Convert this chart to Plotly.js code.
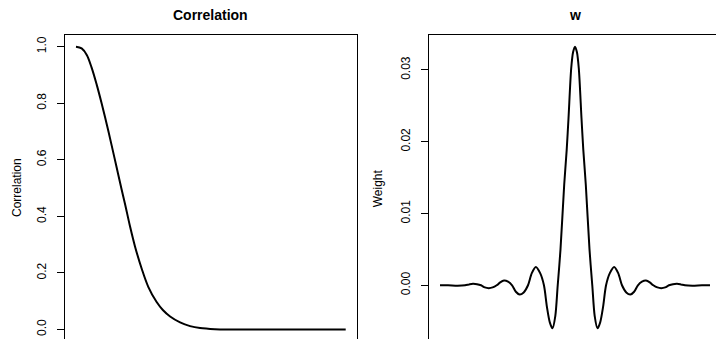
<!DOCTYPE html>
<html>
<head>
<meta charset="utf-8">
<script src="https://cdn.plot.ly/plotly-3.0.1.min.js"></script>
<style>
  html, body { margin: 0; padding: 0; overflow: hidden; background: #fff; }
  #chart { width: 730px; height: 400px; }
</style>
</head>
<body>
<div id="chart"></div>
<script>
// Correlation as a function of lag
const corrLag = [0, 2.1, 4.0, 5.8, 7.7, 9.5, 11.4, 13.2, 15.1, 16.9, 18.2, 20.0, 21.9, 24.4, 26.8, 29.9, 32.2, 34.9, 38.6, 42.3, 46.0, 51.5, 57.1, 65, 80, 100];
const corrValue = [1.0, 0.994, 0.971, 0.926, 0.865, 0.800, 0.726, 0.652, 0.572, 0.496, 0.443, 0.366, 0.293, 0.214, 0.151, 0.097, 0.069, 0.046, 0.025, 0.012, 0.005, 0.001, 0.0, 0.0, 0.0, 0.0];

// Filter weights w, symmetric about lag 0
const wLag = [-50, -47, -43.5, -40.7, -39.2, -37.8, -36.3, -34.8, -33.4, -31.9, -30.5, -29.0, -27.7, -26.3, -24.8, -23.3, -21.9, -20.5, -19.0, -17.4, -16.0, -14.5, -12.9, -11.5, -10.4, -9.3, -8.33, -7.3, -6.4, -5.37, -4.0, -3.07, -2.4, -1.41, -0.7,
  0,
  0.7, 1.41, 2.4, 3.07, 4.0, 5.37, 6.4, 7.3, 8.33, 9.3, 10.4, 11.5, 12.9, 14.5, 16.0, 17.4, 19.0, 20.5, 21.9, 23.3, 24.8, 26.3, 27.7, 29.0, 30.5, 31.9, 33.4, 34.8, 36.3, 37.8, 39.2, 40.7, 43.5, 47, 50];
const wValue = [0, 0, -0.00005, 0, 0.00012, 0.0002, 0.00015, 0, -0.0003, -0.0004, -0.0003, 0, 0.0004, 0.00065, 0.0005, 0, -0.0009, -0.0013, -0.0010, 0, 0.0017, 0.00256, 0.0017, 0, -0.0030, -0.0052, -0.0060, -0.0043, 0, 0.0050, 0.0140, 0.0189, 0.0233, 0.0302, 0.0325,
  0.03324,
  0.0325, 0.0302, 0.0233, 0.0189, 0.0140, 0.0050, 0, -0.0043, -0.0060, -0.0052, -0.0030, 0, 0.0017, 0.00256, 0.0017, 0, -0.0010, -0.0013, -0.0009, 0, 0.0005, 0.00065, 0.0004, 0, -0.0003, -0.0004, -0.0003, 0, 0.00015, 0.0002, 0.00012, 0, -0.00005, 0, 0];

const corrTicks = [0, 0.2, 0.4, 0.6, 0.8, 1.0];
const corrTickText = ['0.0', '0.2', '0.4', '0.6', '0.8', '1.0'];
const wTicks = [0, 0.01, 0.02, 0.03];
const wTickText = ['0.00', '0.01', '0.02', '0.03'];

const W = 730, H = 400;
const FONT = 'Liberation Sans, Arial, Helvetica, sans-serif';
const px = v => v / W;
const py = v => 1 - v / H;

// pad a data range by 4% on each side
function padded(lo, hi) {
  const d = (hi - lo) * 0.04;
  return [lo - d, hi + d];
}

const lineStyle = { color: '#000', width: 2, shape: 'spline', smoothing: 1 };

const traces = [
  { x: corrLag, y: corrValue, type: 'scatter', mode: 'lines', line: lineStyle, xaxis: 'x', yaxis: 'y', hoverinfo: 'skip' },
  { x: wLag, y: wValue, type: 'scatter', mode: 'lines', line: Object.assign({}, lineStyle, { smoothing: 0.8 }), xaxis: 'x2', yaxis: 'y2', hoverinfo: 'skip' }
];

const xBase = {
  showline: true, mirror: true, linecolor: '#000', linewidth: 1,
  showgrid: false, zeroline: false, ticks: '', showticklabels: false, fixedrange: true
};
const yBase = {
  showline: true, mirror: true, linecolor: '#000', linewidth: 1,
  showgrid: false, zeroline: false, ticks: 'outside', ticklen: 7, tickwidth: 1, tickcolor: '#000',
  tickangle: -90, ticklabelstandoff: 6,
  tickfont: { family: FONT, size: 12, color: '#000' }, fixedrange: true
};

const layout = {
  width: W, height: H,
  margin: { l: 0, r: 0, t: 0, b: 0 },
  paper_bgcolor: '#fff', plot_bgcolor: '#fff',
  showlegend: false,
  xaxis: Object.assign({}, xBase, { domain: [px(65.2), px(356.5)], range: padded(0, 100), anchor: 'y' }),
  yaxis: Object.assign({}, yBase, { domain: [py(340.8), py(35.4)], range: padded(0, 1), tickvals: corrTicks, ticktext: corrTickText, anchor: 'x' }),
  xaxis2: Object.assign({}, xBase, { domain: [px(429.2), px(720.8)], range: padded(-50, 50), anchor: 'y2' }),
  yaxis2: Object.assign({}, yBase, { domain: [py(340.8), py(35.4)], range: padded(-0.00616, 0.03324), tickvals: wTicks, ticktext: wTickText, anchor: 'x2' }),
  annotations: [
    { text: '<b>Correlation</b>', xref: 'paper', yref: 'paper', x: px(210.9), y: py(15.5), xanchor: 'center', yanchor: 'middle', showarrow: false, font: { family: FONT, size: 14, color: '#000' } },
    { text: '<b>w</b>', xref: 'paper', yref: 'paper', x: px(575), y: py(15.5), xanchor: 'center', yanchor: 'middle', showarrow: false, font: { family: FONT, size: 14, color: '#000' } },
    { text: 'Correlation', xref: 'paper', yref: 'paper', x: px(17), y: py(188), xanchor: 'center', yanchor: 'middle', textangle: -90, showarrow: false, font: { family: FONT, size: 12, color: '#000' } },
    { text: 'Weight', xref: 'paper', yref: 'paper', x: px(378.3), y: py(188), xanchor: 'center', yanchor: 'middle', textangle: -90, showarrow: false, font: { family: FONT, size: 12, color: '#000' } }
  ]
};

Plotly.newPlot('chart', traces, layout, { displayModeBar: false, staticPlot: true });
</script>
</body>
</html>
